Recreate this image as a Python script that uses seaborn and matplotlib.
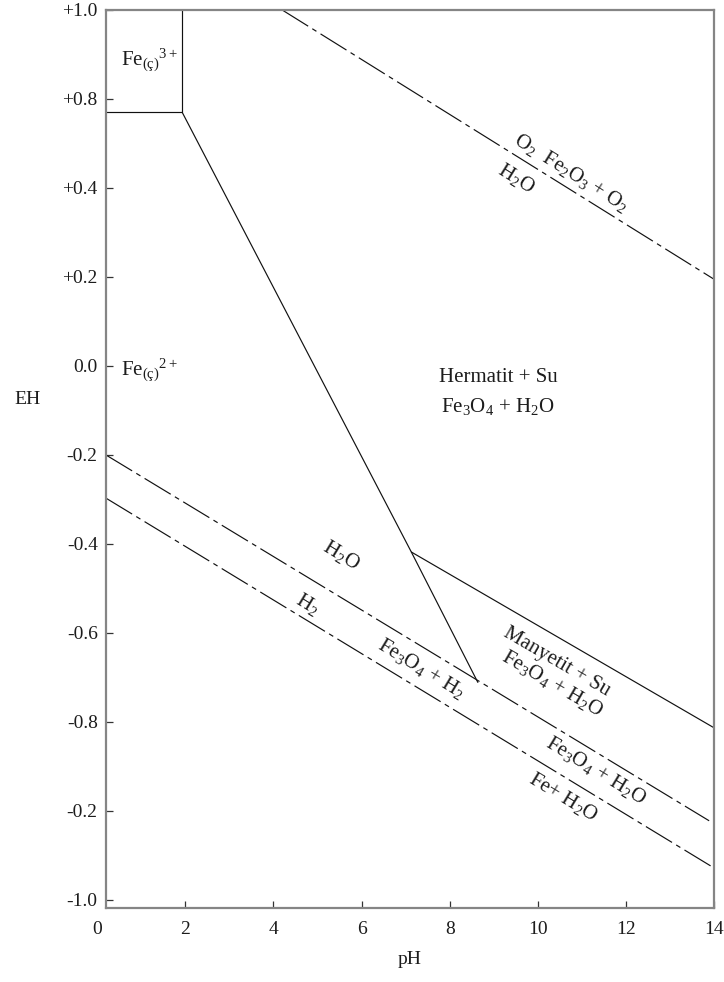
import matplotlib
matplotlib.use("Agg")
import numpy as np
import matplotlib.pyplot as plt
import seaborn as sns

# Axis ranges and ticks
ph_range = [0.2, 14.0]
eh_range = [-1.018, 1.0]
ph_ticks = [0, 2, 4, 6, 8, 10, 12, 14]
eh_tick_pos = [1.0, 0.8, 0.6, 0.4, 0.2, 0.0, -0.2, -0.4, -0.6, -0.8, -1.0]
eh_tick_labels = ["+1.0", "+0.8", "+0.4", "+0.2", "0.0", "-0.2",
                  "-0.4", "-0.6", "-0.8", "-0.2", "-1.0"]

# Stability field boundaries (pH, EH)
fe3_top_ph = [1.93, 1.93]
fe3_top_eh = [1.0, 0.77]
fe3_fe2_ph = [0.2, 1.93]
fe3_fe2_eh = [0.77, 0.77]
fe2_oxide_ph = [1.93, 7.13, 8.64]
fe2_oxide_eh = [0.77, -0.218, -0.511]
hem_mag_ph = [7.13, 14.0]
hem_mag_eh = [-0.218, -0.613]

# Water stability limits and Fe / magnetite limit (dash-dot)
o2_ph = [4.2, 14.0]
o2_eh = [1.0, 0.395]
h2_ph = [0.2, 13.89]
h2_eh = [0.0, -0.822]
fe_ph = [0.2, 14.0]
fe_eh = [-0.097, -0.928]

sns.set_theme(style="ticks")
plt.rcParams["font.family"] = ["Liberation Serif", "DejaVu Serif"]
plt.rcParams["mathtext.fontset"] = "custom"
plt.rcParams["mathtext.rm"] = "Liberation Serif"
plt.rcParams["mathtext.it"] = "Liberation Serif:italic"
plt.rcParams["mathtext.bf"] = "Liberation Serif:bold"
plt.rcParams["lines.scale_dashes"] = False

TXT = "#1c1c1c"
FS = 14
FS_LAB = 15

fig = plt.figure(figsize=(7.24, 9.82), dpi=100)
ax = fig.add_axes([106 / 724, 1 - 908 / 982, 608 / 724, 898 / 982])
ax.set_xlim(*ph_range)
ax.set_ylim(*eh_range)

solid = dict(color="#111111", linewidth=0.85, sort=False, estimator=None, ax=ax)
dashdot = dict(color="#111111", linewidth=0.85, sort=False, estimator=None, ax=ax,
               linestyle=(0, (22, 3.5, 3.5, 3.5)))

for xs, ys in [(fe3_top_ph, fe3_top_eh), (fe3_fe2_ph, fe3_fe2_eh),
               (fe2_oxide_ph, fe2_oxide_eh), (hem_mag_ph, hem_mag_eh)]:
    sns.lineplot(x=xs, y=ys, **solid)
for xs, ys in [(o2_ph, o2_eh), (h2_ph, h2_eh), (fe_ph, fe_eh)]:
    sns.lineplot(x=xs, y=ys, **dashdot)

# Axes styling
for side in ["left", "bottom", "right", "top"]:
    ax.spines[side].set_visible(True)
    ax.spines[side].set_color("#858585")
    ax.spines[side].set_linewidth(1.6)

ax.set_xticks([t for t in ph_ticks if t >= ph_range[0]])
ax.set_yticks(eh_tick_pos)
ax.set_yticklabels(eh_tick_labels)
ax.tick_params(axis="both", direction="in", length=5, width=0.9, color="#333333",
               labelsize=FS, labelcolor=TXT, pad=6)
ax.tick_params(axis="x", pad=9)
ax.tick_params(top=False, right=False)
# The zero label sits just left of the plotted range
ax.annotate("0", xy=(0, 0), xycoords=("data", "axes fraction"),
            xytext=(0, -9), textcoords="offset points",
            ha="center", va="top", fontsize=FS, color=TXT, annotation_clip=False)

ax.set_xlabel("pH", fontsize=FS, color=TXT, labelpad=10)
ax.set_ylabel("EH", fontsize=FS, color=TXT, rotation=0, ha="center", va="center")
ax.yaxis.set_label_coords((28 - 106) / 608, (908 - 400) / 898)


def slope_angle(xs, ys):
    p = ax.transData.transform(np.column_stack([xs[:2], ys[:2]]))
    return np.degrees(np.arctan2(p[1, 1] - p[0, 1], p[1, 0] - p[0, 0]))


a_o2 = slope_angle(o2_ph, o2_eh)
a_h2 = slope_angle(h2_ph, h2_eh)
a_fe = slope_angle(fe_ph, fe_eh)
a_mag = slope_angle(hem_mag_ph, hem_mag_eh)

lab = dict(fontsize=FS_LAB, color=TXT, ha="center", va="center", rotation_mode="anchor")

ax.text(0.55, 0.874, r"Fe$_{\mathrm{(ç)}}$$^{3+}$", fontsize=FS_LAB, color=TXT,
        ha="left", va="baseline")
ax.text(0.55, 0.178, r"Fe$_{\mathrm{(ç)}}$$^{2+}$", fontsize=FS_LAB, color=TXT,
        ha="left", va="baseline")

ax.text(9.1, 0.175, "Hermatit + Su", **lab)
ax.text(9.1, 0.110, r"Fe$_3$O$_4$ + H$_2$O", **lab)

ax.text(10.75, 0.634, r"O$_2$  Fe$_2$O$_3$ + O$_2$", rotation=a_o2, **lab)
ax.text(9.50, 0.622, r"H$_2$O", rotation=a_o2, **lab)

ax.text(5.54, -0.225, r"H$_2$O", rotation=a_h2, **lab)
ax.text(4.77, -0.335, r"H$_2$", rotation=a_h2, **lab)
ax.text(7.36, -0.479, r"Fe$_3$O$_4$ + H$_2$", rotation=a_h2, **lab)

ax.text(10.43, -0.465, "Manyetit + Su", rotation=a_mag, **lab)
ax.text(10.34, -0.514, r"Fe$_3$O$_4$ + H$_2$O", rotation=a_mag, **lab)

ax.text(11.32, -0.708, r"Fe$_3$O$_4$ + H$_2$O", rotation=a_fe, **lab)
ax.text(10.59, -0.769, r"Fe+ H$_2$O", rotation=a_fe, **lab)

fig.savefig("out.png", dpi=100)
